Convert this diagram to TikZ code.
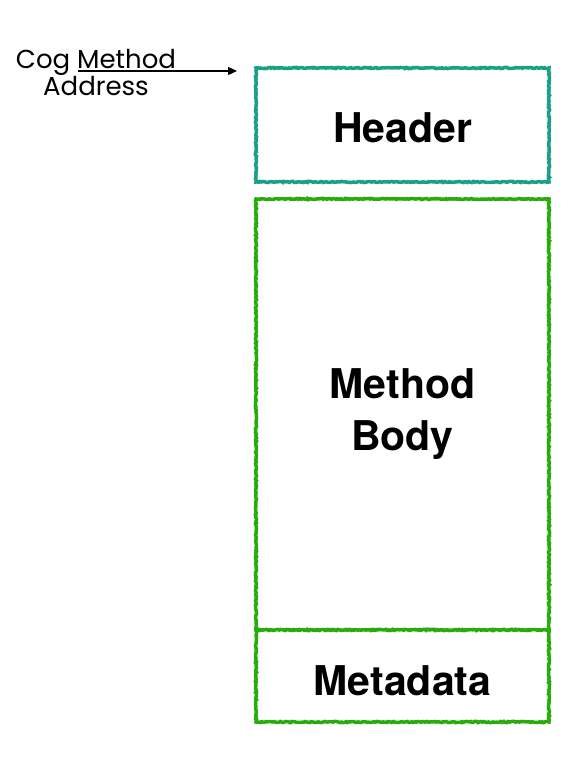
\documentclass[tikz,border=0pt]{standalone}
\usepackage{fontspec}
\setmainfont{TeX Gyre Heros}
\newfontfamily\captionfont{Poppins}
\usepackage{tikz}
\usetikzlibrary{arrows.meta, positioning, decorations.pathmorphing}
\definecolor{headerTeal}{RGB}{26,160,134}
\definecolor{bodyGreen}{RGB}{40,172,12}

\begin{document}
\begin{tikzpicture}[
  x=1pt, y=1pt,
  node distance=17pt,
  block/.style={rectangle, minimum width=293pt, inner sep=0pt, outer sep=0pt, line width=3.5pt, text centered, fill=white, font=\fontsize{41}{50}\selectfont\bfseries, decorate, decoration={random steps, segment length=1.5pt, amplitude=0.6pt}},
  arrow/.style={line width=1.3pt, -{Triangle[length=9pt, width=8pt]}, black}
]
\useasboundingbox (0,0) rectangle (578,770);

% Blocks
\node (header) [block, draw=headerTeal, minimum height=114pt, text height=36pt, text depth=0pt] at (402.5,645) {Header};
\node (body) [block, draw=bodyGreen, minimum height=431pt, below=of header, align=center] {Method\\[2pt]Body};
\node (meta) [block, draw=bodyGreen, minimum height=92pt, below=0pt of body, text height=40pt, text depth=0pt] {Metadata};

% Pointer label
\node (addr) [font=\captionfont\fontsize{26}{24}\selectfont, align=center, anchor=north] at (96,724.5) {Cog Method\\Address};
\coordinate (ptr) at (78,699);
\draw [arrow] (ptr) -- ([xshift=-19pt, yshift=-3pt]header.north west);

\end{tikzpicture}
\end{document}
